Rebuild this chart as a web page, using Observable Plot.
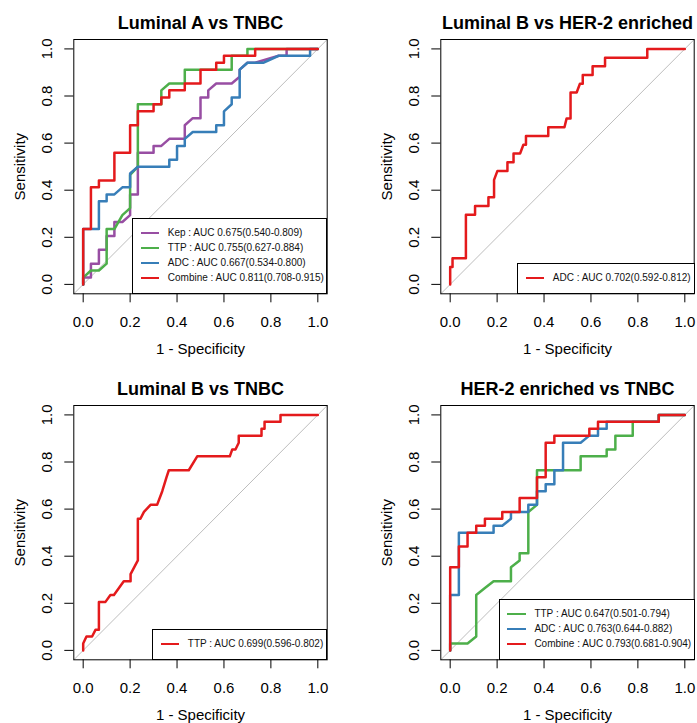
<!DOCTYPE html>
<html>
<head>
<meta charset="utf-8">
<script src="https://cdn.jsdelivr.net/npm/d3@7"></script>
<script src="https://cdn.jsdelivr.net/npm/@observablehq/plot@0.6"></script>
<style>
  html, body { margin: 0; padding: 0; background: #fff; overflow: hidden; }
  #root { position: relative; width: 697px; height: 723px; overflow: hidden; background: #fff;
          font-family: "Liberation Sans", Arial, sans-serif; }
  .panel { position: absolute; }
  .panel svg { display: block; max-width: none !important; }
  .legend { position: absolute; border: 1px solid #000; background: #fff; box-sizing: border-box; }
  .legend .ln { position: absolute; height: 2px; }
  .legend .tx { position: absolute; font-size: 10px; line-height: 12px; color: #111; white-space: nowrap; }
</style>
</head>
<body>
<div id="root"></div>
<script>
// ---------- shared ----------
const ticks = [0, 0.2, 0.4, 0.6, 0.8, 1.0];
const diagonal = [-0.04, 1.04];
const colPurple = "#984EA3", colGreen = "#4DAF4A", colBlue = "#377EB8", colRed = "#E41A1C";

// ---------- Panel 1: Luminal A vs TNBC ----------
const lumA_kep_x = [0,0,0.033,0.033,0.067,0.067,0.1,0.1,0.133,0.133,0.167,0.2,0.2,0.233,0.233,0.3,0.3,0.333,0.367,0.433,0.433,0.467,0.5,0.5,0.533,0.533,0.567,0.633,0.667,0.667,0.7,0.733,0.833,0.867,0.867,1];
const lumA_kep_y = [0,0.029,0.029,0.088,0.088,0.147,0.147,0.206,0.206,0.265,0.265,0.294,0.382,0.382,0.559,0.559,0.588,0.588,0.618,0.618,0.676,0.706,0.706,0.794,0.794,0.824,0.853,0.853,0.882,0.912,0.941,0.941,0.971,0.971,1,1];
const lumA_ttp_x = [0,0,0.033,0.067,0.1,0.1,0.133,0.167,0.2,0.2,0.233,0.233,0.333,0.333,0.367,0.433,0.433,0.633,0.633,0.7,0.7,1];
const lumA_ttp_y = [0,0.029,0.059,0.059,0.088,0.235,0.235,0.294,0.324,0.465,0.5,0.765,0.765,0.824,0.853,0.853,0.912,0.912,0.971,0.971,1,1];
const lumA_adc_x = [0,0,0.067,0.067,0.1,0.1,0.133,0.167,0.2,0.2,0.233,0.367,0.367,0.4,0.4,0.433,0.433,0.467,0.567,0.567,0.6,0.6,0.633,0.633,0.667,0.667,0.7,0.767,0.833,0.967,0.967,1];
const lumA_adc_y = [0,0.235,0.235,0.353,0.353,0.382,0.382,0.412,0.412,0.471,0.5,0.5,0.529,0.529,0.588,0.588,0.618,0.647,0.647,0.676,0.676,0.735,0.765,0.794,0.794,0.912,0.941,0.941,0.971,0.971,1,1];
const lumA_comb_x = [0,0,0.033,0.033,0.067,0.067,0.133,0.133,0.2,0.2,0.233,0.233,0.3,0.3,0.333,0.333,0.367,0.367,0.433,0.433,0.5,0.5,0.567,0.567,0.6,0.6,0.733,0.733,1];
const lumA_comb_y = [0,0.235,0.235,0.412,0.412,0.441,0.441,0.559,0.559,0.676,0.676,0.735,0.735,0.765,0.765,0.794,0.794,0.824,0.824,0.853,0.853,0.912,0.912,0.941,0.941,0.971,0.971,1,1];
const lumA_labels = ["Kep : AUC 0.675(0.540-0.809)", "TTP : AUC 0.755(0.627-0.884)", "ADC : AUC 0.667(0.534-0.800)", "Combine : AUC 0.811(0.708-0.915)"];

// ---------- Panel 2: Luminal B vs HER-2 enriched ----------
const lbHer_adc_x = [0,0,0.01,0.01,0.067,0.067,0.106,0.106,0.163,0.163,0.187,0.187,0.201,0.244,0.244,0.27,0.27,0.298,0.312,0.323,0.323,0.418,0.418,0.487,0.496,0.513,0.513,0.539,0.553,0.565,0.565,0.607,0.607,0.66,0.66,0.84,0.84,1];
const lbHer_adc_y = [0,0.074,0.074,0.111,0.111,0.296,0.296,0.333,0.333,0.37,0.37,0.444,0.481,0.481,0.519,0.519,0.556,0.556,0.593,0.593,0.63,0.63,0.667,0.667,0.704,0.704,0.815,0.815,0.852,0.852,0.889,0.889,0.926,0.926,0.963,0.963,1,1];
const lbHer_labels = ["ADC : AUC 0.702(0.592-0.812)"];

// ---------- Panel 3: Luminal B vs TNBC ----------
const lbTn_ttp_x = [0,0,0.014,0.038,0.053,0.067,0.067,0.095,0.116,0.131,0.173,0.202,0.202,0.233,0.233,0.244,0.259,0.287,0.315,0.337,0.355,0.365,0.45,0.486,0.625,0.635,0.649,0.663,0.663,0.76,0.76,0.773,0.773,0.841,0.841,1];
const lbTn_ttp_y = [0,0.029,0.059,0.059,0.088,0.088,0.206,0.206,0.235,0.235,0.294,0.294,0.324,0.382,0.559,0.559,0.588,0.618,0.618,0.676,0.735,0.765,0.765,0.824,0.824,0.853,0.853,0.882,0.912,0.912,0.941,0.941,0.971,0.971,1,1];
const lbTn_labels = ["TTP : AUC 0.699(0.596-0.802)"];

// ---------- Panel 4: HER-2 enriched vs TNBC ----------
const herTn_ttp_x = [0,0,0.074,0.111,0.111,0.148,0.185,0.259,0.259,0.296,0.296,0.333,0.333,0.37,0.37,0.556,0.556,0.667,0.667,0.704,0.704,0.778,0.778,0.889,0.889,1];
const herTn_ttp_y = [0,0.029,0.029,0.059,0.235,0.265,0.294,0.294,0.353,0.382,0.412,0.412,0.588,0.618,0.765,0.765,0.824,0.824,0.853,0.853,0.912,0.912,0.971,0.971,1,1];
const herTn_adc_x = [0,0,0.037,0.037,0.185,0.185,0.222,0.259,0.259,0.333,0.333,0.37,0.37,0.407,0.407,0.444,0.444,0.481,0.481,0.556,0.593,0.63,0.63,0.667,0.667,0.889,0.889,1];
const herTn_adc_y = [0,0.235,0.235,0.5,0.5,0.529,0.529,0.559,0.588,0.588,0.618,0.618,0.676,0.676,0.706,0.706,0.765,0.765,0.882,0.882,0.912,0.912,0.941,0.941,0.971,0.971,1,1];
const herTn_comb_x = [0,0,0.037,0.037,0.074,0.074,0.111,0.111,0.148,0.148,0.222,0.222,0.296,0.296,0.37,0.37,0.407,0.407,0.444,0.444,0.593,0.593,0.63,0.63,0.889,0.889,1];
const herTn_comb_y = [0,0.353,0.353,0.441,0.441,0.5,0.5,0.529,0.529,0.559,0.559,0.588,0.588,0.647,0.647,0.735,0.735,0.882,0.882,0.912,0.912,0.941,0.941,0.971,0.971,1,1];
const herTn_labels = ["TTP : AUC 0.647(0.501-0.794)", "ADC : AUC 0.763(0.644-0.882)", "Combine : AUC 0.793(0.681-0.904)"];

// ---------- layout ----------
const W = 330, H = 357, ML = 73.3, MT = 39, MR = W - 326.7, MB = H - 293.3;
const COLX = [0, 367.4], ROWY = [0, 366];

const panels = [
  {col: 0, row: 0, title: "Luminal A vs TNBC", legendLeft: 132.7, labels: lumA_labels,
   series: [[lumA_kep_x, lumA_kep_y, colPurple], [lumA_ttp_x, lumA_ttp_y, colGreen], [lumA_adc_x, lumA_adc_y, colBlue], [lumA_comb_x, lumA_comb_y, colRed]]},
  {col: 1, row: 0, title: "Luminal B vs HER-2 enriched", legendLeft: 150.3, labels: lbHer_labels,
   series: [[lbHer_adc_x, lbHer_adc_y, colRed]]},
  {col: 0, row: 1, title: "Luminal B vs TNBC", legendLeft: 152.7, labels: lbTn_labels,
   series: [[lbTn_ttp_x, lbTn_ttp_y, colRed]]},
  {col: 1, row: 1, title: "HER-2 enriched vs TNBC", legendLeft: 131.9, labels: herTn_labels,
   series: [[herTn_ttp_x, herTn_ttp_y, colGreen], [herTn_adc_x, herTn_adc_y, colBlue], [herTn_comb_x, herTn_comb_y, colRed]]}
];

const root = document.getElementById("root");
const fmt = d3.format(".1f");

for (const p of panels) {
  const marks = [
    Plot.line(diagonal, {x: d => d, y: d => d, stroke: "#bdbdbd", strokeWidth: 1})
  ];
  for (const [xs, ys, color] of p.series) {
    const rows = xs.map((x, i) => ({x, y: ys[i]}));
    marks.push(Plot.line(rows, {x: "x", y: "y", stroke: color, strokeWidth: 2.5, strokeLinejoin: "round"}));
  }
  marks.push(Plot.frame({stroke: "#000", strokeWidth: 1}));
  marks.push(Plot.axisX(ticks, {tickSize: 9, tickPadding: 13.6, tickFormat: fmt,
    label: "1 - Specificity", labelAnchor: "center", labelOffset: 60, labelArrow: "none"}));
  marks.push(Plot.axisY(ticks, {tickSize: 9, tickPadding: 12.8, tickRotate: -90, tickFormat: fmt,
    label: "Sensitivity", labelAnchor: "center", labelOffset: 59, labelArrow: "none"}));
  marks.push(Plot.text([p.title], {text: d => d, frameAnchor: "top", lineAnchor: "bottom", dy: -11,
    fontSize: 18, fontWeight: "bold"}));

  const svg = Plot.plot({
    width: W, height: H,
    marginLeft: ML, marginTop: MT, marginRight: MR, marginBottom: MB,
    x: {domain: [-0.04, 1.04]},
    y: {domain: [-0.04, 1.04]},
    style: {fontFamily: "'Liberation Sans', Arial, sans-serif", fontSize: "15px", color: "#000", background: "transparent", overflow: "visible"},
    marks
  });

  const ox = COLX[p.col], oy = ROWY[p.row];
  const div = document.createElement("div");
  div.className = "panel";
  div.style.left = ox + "px";
  div.style.top = oy + "px";
  div.style.width = W + "px";
  div.style.height = H + "px";
  div.appendChild(svg);
  root.appendChild(div);

  // legend (R-style box at bottom-right of the plot region)
  const n = p.labels.length;
  const L = p.legendLeft, R = 326.7, B = 293.3, T = B - (15 * n + 15);
  const lg = document.createElement("div");
  lg.className = "legend";
  lg.style.left = (ox + L - 0.5) + "px";
  lg.style.top = (oy + T - 0.5) + "px";
  lg.style.width = (R - L + 1) + "px";
  lg.style.height = (B - T + 1) + "px";
  const colors = p.series.map(s => s[2]);
  p.labels.forEach((lab, i) => {
    const cy = 15 + 15 * i + 0.5; // relative to legend box outer top
    const ln = document.createElement("div");
    ln.className = "ln";
    ln.style.background = colors[i];
    ln.style.left = (8.5 - 1) + "px";
    ln.style.width = "18.5px";
    ln.style.top = (cy - 1 - 1) + "px";
    lg.appendChild(ln);
    const tx = document.createElement("div");
    tx.className = "tx";
    tx.textContent = lab;
    tx.style.left = (35.6 - 1) + "px";
    tx.style.top = (cy - 6.5 - 1) + "px";
    lg.appendChild(tx);
  });
  root.appendChild(lg);
}
</script>
</body>
</html>
